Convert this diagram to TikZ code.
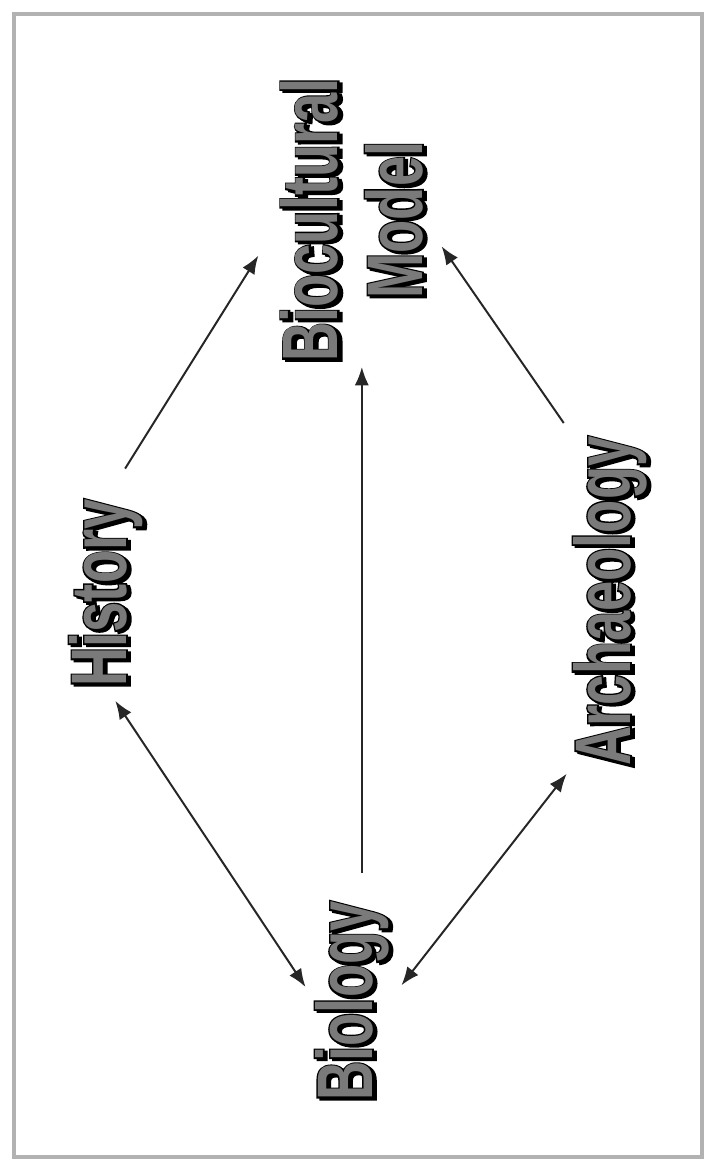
\documentclass[tikz,border=0pt]{standalone}
\usepackage{fontspec}
\usepackage{tikz}
\usetikzlibrary{arrows.meta, calc}

\newfontfamily\subjfont{Liberation Sans Bold}[FakeStretch=0.69]
\newfontfamily\subjedgefont{Liberation Sans Bold}[FakeStretch=0.69, FakeBold=4]

\tikzset{
  subject/.style={rotate=90, inner sep=0pt, align=center, text=black!52,
    font=\subjfont\fontsize{56}{60}\selectfont},
  subject edge/.style={subject, text=black,
    font=\subjedgefont\fontsize{56}{60}\selectfont},
  link/.style={line width=1.4pt, black!85},
  >={Latex[length=13pt, width=10pt]}
}

% name, position, text: shadow, outline, then grey letters on top
\newcommand{\subject}[3]{%
  \node[subject edge] (#1-shadow) at ($(#2)+(3,2)$) {#3};
  \node[subject edge] (#1-edge) at (#2) {#3};
  \node[subject] (#1) at (#2) {#3};
}

\begin{document}
\begin{tikzpicture}[x=0.025cm, y=-0.025cm]
    % page and frame
    \fill[white] (0,0) rectangle (712,1159);
    \draw[black!30, line width=2.2pt] (14,14) rectangle (702,1157);

    % subjects
    \subject{bioc}{352,220}{Biocultural\\Model}
    \subject{history}{106,593}{History}
    \subject{archaeology}{610,601}{Archaeology}
    \subject{biology}{352,1001}{Biology}

    % links into the model
    \draw[link, ->, shorten <=0.9cm, shorten >=1.05cm] (history.east) -- (bioc.north);
    \draw[link, ->, shorten <=0.7cm, shorten >=0.12cm] ([xshift=7pt]biology.east) -- ([xshift=7pt]biology.east |- bioc.west);
    \draw[link, ->, shorten <=0.4cm, shorten >=0.8cm] (archaeology.north east) -- (bioc.south);

    % links between the fields
    \draw[link, <->, shorten <=0.42cm, shorten >=0.42cm] (history.west) -- (biology.north);
    \draw[link, <->, shorten <=0.25cm, shorten >=0.5cm] (archaeology.north west) -- (biology.south);
\end{tikzpicture}
\end{document}
